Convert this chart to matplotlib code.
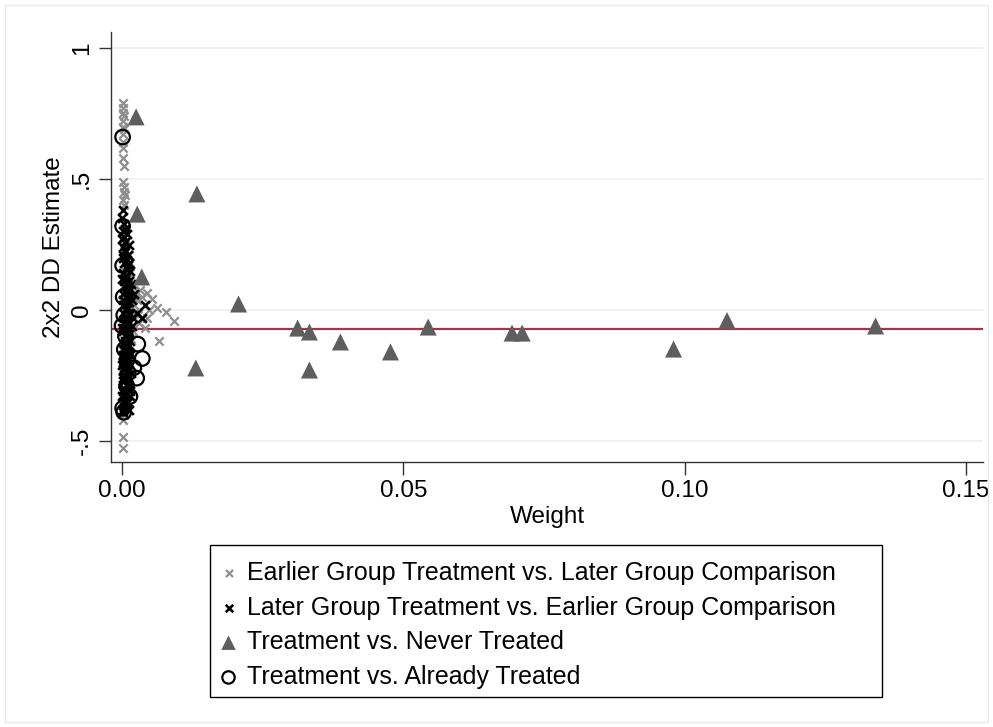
import numpy as np
import matplotlib.pyplot as plt
from matplotlib.patches import Rectangle

plt.rcParams['font.family'] = ['Liberation Sans', 'DejaVu Sans']

# Earlier Group Treatment vs. Later Group Comparison
early_w = [0.0001, 0.0002, 0.0001, 0.0003, 0.0002, 0.0001, 0.0003, 0.0002, 0.0001, 0.0002,
           0.0001, 0.0002, 0.0004, 0.0003, 0.0005, 0.0002, 0.0004, 0.0013, 0.0018, 0.0032,
           0.0044, 0.0053, 0.0062, 0.0078, 0.0092, 0.0066, 0.0044, 0.0040, 0.0048, 0.0025,
           0.0022, 0.0030, 0.0020, 0.0016, 0.0012, 0.0008, 0.0010, 0.0006, 0.0003, 0.0004,
           0.0002, 0.0001, 0.0001, 0.0006, 0.0008, 0.0014, 0.0015, 0.0026, 0.0035, 0.0028,
           0.0003, 0.0005, 0.0009, 0.0011, 0.0017, 0.0021, 0.0019, 0.0012]
early_est = [0.79, 0.77, 0.75, 0.74, 0.72, 0.70, 0.69, 0.67, 0.64, 0.62,
             0.58, 0.49, 0.47, 0.45, 0.44, 0.42, 0.40, 0.21, 0.10, 0.076,
             0.065, 0.042, 0.008, -0.008, -0.042, -0.118, -0.03, -0.07, 0.0, 0.06,
             0.02, -0.05, -0.08, -0.11, -0.16, -0.20, -0.26, -0.30, -0.36, -0.40,
             -0.42, -0.485, -0.527, 0.15, 0.12, 0.18, 0.14, 0.04, 0.05, -0.02,
             0.55, 0.25, 0.06, -0.04, 0.09, -0.01, -0.06, 0.01]

# Later Group Treatment vs. Earlier Group Comparison
later_w = [0.0002, 0.0004, 0.0001, 0.0003, 0.0005, 0.0002, 0.0006, 0.0001, 0.0004, 0.0007,
           0.0002, 0.0005, 0.0008, 0.0003, 0.0006, 0.0010, 0.0002, 0.0012, 0.0004, 0.0018,
           0.0008, 0.0027, 0.0040, 0.0035, 0.0001, 0.0006, 0.0003, 0.0009, 0.0002, 0.0005,
           0.0011, 0.0003, 0.0007, 0.0001, 0.0004, 0.0009, 0.0002, 0.0006, 0.0003, 0.0008,
           0.0001, 0.0005, 0.0002, 0.0004, 0.0001, 0.0003, 0.0007, 0.0013, 0.0015, 0.0009,
           0.0006, 0.0008, 0.0004, 0.0010, 0.0006, 0.0012, 0.0000, 0.0005, 0.0009, 0.0002,
           0.0007, 0.0003, 0.0011, 0.0001, 0.0008, 0.0004, 0.0006, 0.0002, 0.0010, 0.0005,
           0.0013, 0.0011, 0.0014, 0.0012, 0.0010, 0.0013, 0.0011, 0.0014, 0.0012, 0.0010,
           0.0013, 0.0011, 0.0012, 0.0014, 0.0010, 0.0013, 0.0011, 0.0012, 0.0009, 0.0013,
           0.0000, 0.0001, 0.0000, 0.0001, 0.0000, 0.0001, 0.0000, 0.0001, 0.0000, 0.0001,
           0.0016, 0.0015, 0.0017, 0.0014, 0.0016, 0.0015, 0.0022, 0.0020]
later_est = [0.38, 0.33, 0.30, 0.28, 0.26, 0.24, 0.22, 0.20, 0.18, 0.16,
             0.14, 0.12, 0.10, 0.09, 0.07, 0.05, 0.04, 0.03, 0.02, 0.04,
             0.01, -0.01, 0.02, -0.03, -0.01, -0.03, -0.05, -0.06, -0.08, -0.10,
             -0.11, -0.13, -0.15, -0.17, -0.19, -0.21, -0.23, -0.25, -0.27, -0.29,
             -0.31, -0.33, -0.35, -0.37, -0.39, 0.11, 0.00, -0.02, 0.08, 0.19,
             -0.12, -0.18, -0.22, -0.28, -0.36, -0.09, 0.27, 0.31, 0.13, 0.06,
             -0.04, -0.07, -0.14, -0.20, -0.24, -0.30, -0.32, -0.26, 0.17, 0.23,
             0.25, 0.21, 0.15, 0.11, 0.03, -0.05, -0.08, -0.12, -0.16, -0.19,
             -0.23, -0.26, -0.29, -0.33, -0.35, -0.38, 0.07, 0.18, 0.29, -0.01,
             0.35, 0.21, 0.12, 0.02, -0.07, -0.15, -0.21, -0.27, -0.33, -0.38,
             0.10, 0.05, -0.06, -0.17, -0.24, -0.31, 0.06, -0.03]

# Treatment vs. Never Treated
never_w = [0.0025, 0.0133, 0.0027, 0.0035, 0.0131, 0.0207, 0.0312, 0.0333, 0.0333, 0.0388,
           0.0477, 0.0544, 0.0693, 0.0711, 0.0980, 0.1075, 0.1339]
never_est = [0.737, 0.443, 0.366, 0.126, -0.221, 0.023, -0.069, -0.084, -0.229, -0.122,
             -0.160, -0.065, -0.088, -0.088, -0.149, -0.040, -0.061]

# Treatment vs. Already Treated
already_w = [0.0001, 0.0001, 0.0001, 0.0000, 0.0028, 0.0036, 0.0021, 0.0026, 0.0009, 0.0014,
             0.0001, 0.0003, 0.0006, 0.0004, 0.0011, 0.0002, 0.0003, 0.0008]
already_est = [0.66, 0.32, 0.17, -0.06, -0.13, -0.185, -0.22, -0.26, -0.19, -0.33,
               -0.375, -0.39, -0.10, -0.15, -0.24, 0.05, -0.02, -0.29]

overall_dd = -0.073

fig = plt.figure(figsize=(9.93, 7.27), dpi=100)
fig.patches.append(Rectangle((0.005, 0.007), 0.99, 0.986, transform=fig.transFigure,
                             fill=False, edgecolor='#e6ecee', lw=1))
ax = fig.add_axes([0.1118, 0.3645, 0.8782, 0.5915])

ax.set_xlim(-0.00196, 0.153)
ax.set_ylim(-0.58, 1.061)
ax.set_yticks([-0.5, 0, 0.5, 1])
ax.set_yticklabels(['-.5', '0', '.5', '1'], rotation=90, va='center')
ax.set_xticks([0, 0.05, 0.10, 0.15])
ax.set_xticklabels(['0.00', '0.05', '0.10', '0.15'])
ax.grid(axis='y', color='#eaf0f2', lw=1.2)
ax.set_axisbelow(True)
for s in ['top', 'right']:
    ax.spines[s].set_visible(False)
for s in ['left', 'bottom']:
    ax.spines[s].set_color('#333333')
    ax.spines[s].set_linewidth(1.0)
ax.tick_params(axis='both', length=9, width=1, color='#333333', labelsize=17.5, pad=4)

ax.axhline(overall_dd, color='#a83246', lw=1.6, zorder=1)

ax.scatter(early_w, early_est, marker='x', s=36, color='#8e8e8e', linewidths=1.6, zorder=2,
           label='Earlier Group Treatment vs. Later Group Comparison')
ax.scatter(later_w, later_est, marker='x', s=40, color='black', linewidths=1.9, zorder=3,
           label='Later Group Treatment vs. Earlier Group Comparison')
ax.scatter(never_w, never_est, marker='^', s=150, color='#5e5e5e', edgecolors='none', zorder=3,
           label='Treatment vs. Never Treated')
ax.scatter(already_w, already_est, marker='o', s=110, facecolors='none', edgecolors='black',
           linewidths=1.6, zorder=4, label='Treatment vs. Already Treated')

ax.set_xlabel('Weight', fontsize=17.5, labelpad=3)
ax.set_ylabel('2x2 DD Estimate', fontsize=17.5, labelpad=4)

# legend box drawn separately, Stata leaves extra room on the right
fig.patches.append(Rectangle((210 / 993, 1 - 697 / 727), 672 / 993, 152 / 727,
                             transform=fig.transFigure, fill=False, edgecolor='black', lw=1))
leg = fig.legend(loc='upper left', bbox_to_anchor=(196 / 993, 1 - 532 / 727), fontsize=18,
                 frameon=False, markerscale=0.85,
                 handletextpad=0.6, borderpad=0.65, labelspacing=0.43, handlelength=0.3)

fig.savefig('out.png', dpi=100)
